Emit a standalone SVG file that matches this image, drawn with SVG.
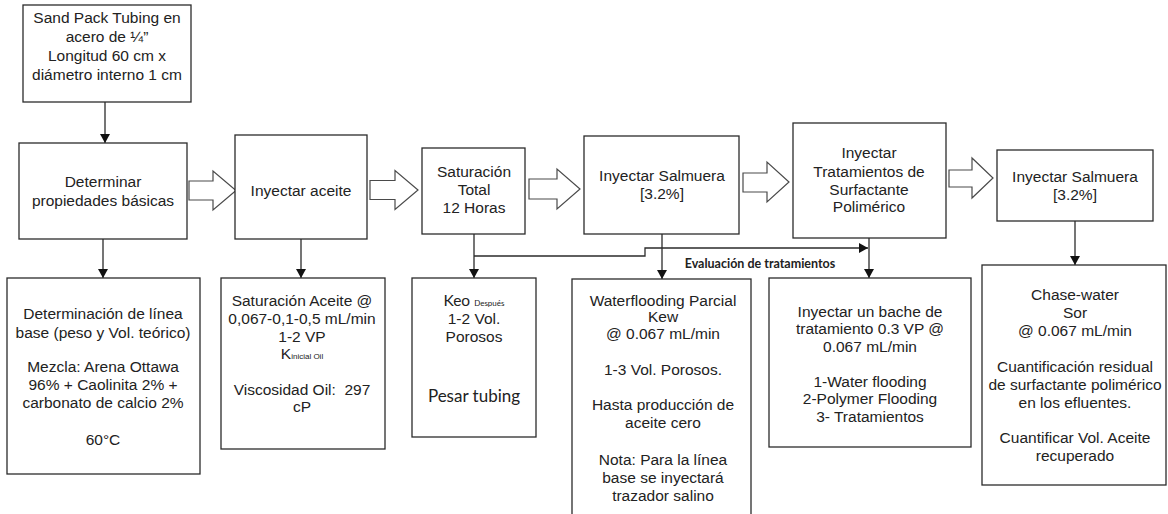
<svg xmlns="http://www.w3.org/2000/svg" width="1168" height="514" viewBox="0 0 1168 514">
<style>
.box{fill:#fff;stroke:#2b2b2b;stroke-width:1.3}
.blk{fill:#fff;stroke:#4a4a4a;stroke-width:1.2}
.ln{fill:none;stroke:#2b2b2b;stroke-width:1.3}
text{font-family:"Liberation Sans",Arial,sans-serif;font-size:15.5px;fill:#222;text-anchor:middle}
.cal{font-family:Lato,"Open Sans",sans-serif}
.big{font-size:17px}
.lbl{font-family:Lato,"Open Sans",sans-serif;font-weight:bold;font-size:12.5px}
.sub{font-size:8px}
</style>
<defs>
<marker id="ah" markerUnits="userSpaceOnUse" markerWidth="9" markerHeight="10" refX="9" refY="5" orient="auto">
<path d="M0,0 L9,5 L0,10 z" fill="#111"/>
</marker>
</defs>
<rect width="1168" height="514" fill="#fff"/>

<g id="connectors">
<path class="ln" d="M105,102 V143" marker-end="url(#ah)"/>
<path class="ln" d="M103,239 V278" marker-end="url(#ah)"/>
<path class="ln" d="M301,239 V278" marker-end="url(#ah)"/>
<path class="ln" d="M474,234 V278" marker-end="url(#ah)"/>
<path class="ln" d="M662,234 V279" marker-end="url(#ah)"/>
<path class="ln" d="M869,238 V278" marker-end="url(#ah)"/>
<path class="ln" d="M1075,221 V265" marker-end="url(#ah)"/>
<path class="ln" d="M474,256 H645 V248 H868" marker-end="url(#ah)"/>
<text class="lbl" x="760" y="268">Evaluación de tratamientos</text>
<path class="blk" d="M189,181 H213 V171 L236,190.5 L213,210 V200 H189 Z"/>
<path class="blk" d="M370,180.5 H395 V170.5 L418,190 L395,209.5 V199.5 H370 Z"/>
<path class="blk" d="M529,179 H557 V169 L580,189 L557,209 V199 H529 Z"/>
<path class="blk" d="M743,173 H767 V162 L789,182 L767,202 V192 H743 Z"/>
<path class="blk" d="M949,170 H972 V158 L993,178 L972,198 V187 H949 Z"/>
</g>

<g id="sandpack">
<rect class="box" x="23" y="5" width="168" height="97"/>
<text x="107" y="23">Sand Pack Tubing en</text>
<text x="107" y="42">acero de ¼”</text>
<text x="107" y="61">Longitud 60 cm x</text>
<text x="107" y="80">diámetro interno 1 cm</text>
</g>

<g id="determinar">
<rect class="box" x="19" y="143" width="168" height="96"/>
<text x="103" y="187">Determinar</text>
<text x="103" y="206">propiedades básicas</text>
</g>

<g id="inyectar-aceite">
<rect class="box" x="235" y="135" width="132" height="104"/>
<text x="301" y="196">Inyectar aceite</text>
</g>

<g id="saturacion-total">
<rect class="box" x="422" y="148" width="103" height="86"/>
<text x="474" y="177">Saturación</text>
<text x="474" y="195">Total</text>
<text x="474" y="213">12 Horas</text>
</g>

<g id="inyectar-salmuera-1">
<rect class="box" x="584" y="136" width="155" height="98"/>
<text x="662" y="181">Inyectar Salmuera</text>
<text x="662" y="199">[3.2%]</text>
</g>

<g id="inyectar-tratamientos">
<rect class="box" x="793" y="123" width="153" height="115"/>
<text x="869" y="158">Inyectar</text>
<text x="869" y="177">Tratamientos de</text>
<text x="869" y="195">Surfactante</text>
<text x="869" y="212">Polimérico</text>
</g>

<g id="inyectar-salmuera-2">
<rect class="box" x="997" y="150" width="156" height="71"/>
<text x="1075" y="182">Inyectar Salmuera</text>
<text x="1075" y="200">[3.2%]</text>
</g>

<g id="linea-base">
<rect class="box" x="7" y="278" width="193" height="196"/>
<text x="103" y="319">Determinación de línea</text>
<text x="103" y="338">base (peso y Vol. teórico)</text>
<text x="103" y="372">Mezcla: Arena Ottawa</text>
<text x="103" y="390">96% + Caolinita 2% +</text>
<text x="103" y="408">carbonato de calcio 2%</text>
<text x="103" y="445">60°C</text>
</g>

<g id="saturacion-aceite">
<rect class="box" x="221" y="278" width="164" height="171"/>
<text x="302" y="306">Saturación Aceite @</text>
<text x="302" y="324">0,067-0,1-0,5 mL/min</text>
<text x="302" y="342">1-2 VP</text>
<text x="302" y="359">K<tspan class="sub">inicial Oil</tspan></text>
<text x="302" y="395">Viscosidad Oil:&#160; 297</text>
<text x="302" y="412">cP</text>
</g>

<g id="keo">
<rect class="box" x="412" y="278" width="124" height="159"/>
<text x="474" y="306"><tspan class="cal">Keo </tspan><tspan class="cal sub">Después</tspan></text>
<text x="474" y="324">1-2 Vol.</text>
<text x="474" y="342">Porosos</text>
<text class="cal big" x="474" y="402">Pesar tubing</text>
</g>

<g id="waterflooding">
<rect class="box" x="572" y="279" width="179" height="245"/>
<text x="663" y="306">Waterflooding Parcial</text>
<text x="663" y="322">Kew</text>
<text x="663" y="339">@ 0.067 mL/min</text>
<text x="663" y="375">1-3 Vol. Porosos.</text>
<text x="663" y="410">Hasta producción de</text>
<text x="663" y="428">aceite cero</text>
<text x="663" y="465">Nota: Para la línea</text>
<text x="663" y="483">base se inyectará</text>
<text x="663" y="501">trazador salino</text>
</g>

<g id="bache">
<rect class="box" x="769" y="278" width="202" height="169"/>
<text x="870" y="317">Inyectar un bache de</text>
<text x="870" y="334">tratamiento 0.3 VP @</text>
<text x="870" y="352">0.067 mL/min</text>
<text x="870" y="387">1-Water flooding</text>
<text x="870" y="404">2-Polymer Flooding</text>
<text x="870" y="422">3- Tratamientos</text>
</g>

<g id="chase-water">
<rect class="box" x="982" y="265" width="184" height="220"/>
<text x="1075" y="300">Chase-water</text>
<text x="1075" y="318">Sor</text>
<text x="1075" y="336">@ 0.067 mL/min</text>
<text x="1075" y="372">Cuantificación residual</text>
<text x="1075" y="390">de surfactante polimérico</text>
<text x="1075" y="408">en los efluentes.</text>
<text x="1075" y="443">Cuantificar Vol. Aceite</text>
<text x="1075" y="461">recuperado</text>
</g>
</svg>
